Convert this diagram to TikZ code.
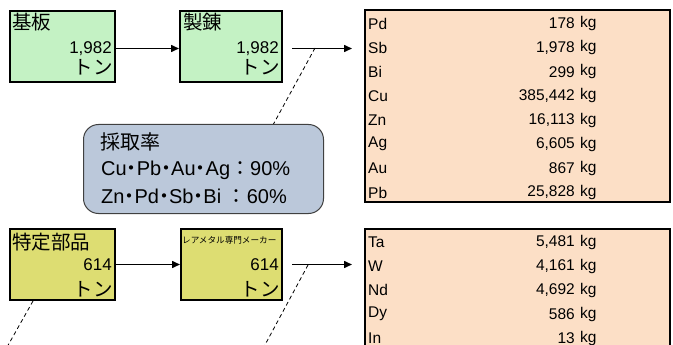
\documentclass[tikz,border=0pt]{standalone}
\usepackage{fontspec}
\setmainfont{Liberation Sans}
\newfontfamily\jp{Noto Sans CJK JP}
\newfontfamily\jpp[RawFeature=+palt]{Noto Sans CJK JP}
\usetikzlibrary{arrows.meta, positioning}

\definecolor{stagegreen}{RGB}{196,242,196}
\definecolor{stageyellow}{RGB}{221,221,114}
\definecolor{resultpeach}{RGB}{252,223,198}
\definecolor{ratefill}{RGB}{187,200,218}
\definecolor{rateline}{RGB}{64,64,64}

\begin{document}
\begin{tikzpicture}[x=1pt, y=-1pt]
	\tikzset{>={Triangle[length=8pt, width=7pt]},
		stage/.style={draw, line width=2pt, anchor=north west, inner sep=0pt, minimum height=71pt},
		title/.style={anchor=west, inner sep=0pt, font=\jp\fontsize{19.5}{19.5}\selectfont},
		amount/.style={anchor=east, inner sep=0pt, font=\fontsize{17}{17}\selectfont},
		unit/.style={anchor=east, inner sep=0pt, font=\jp\fontsize{19.5}{19.5}\selectfont},
		result/.style={draw, line width=2pt, fill=resultpeach, anchor=north west, inner sep=0pt, minimum width=305pt},
		cell/.style={inner sep=0pt, font=\fontsize{15.5}{15.5}\selectfont},
		ratetext/.style={anchor=west, inner sep=0pt, font=\fontsize{20}{20}\selectfont},
		flow/.style={->, line width=1.5pt},
		pointer/.style={line width=0.8pt, dash pattern=on 4pt off 3pt}}

	\path[use as bounding box] (0,0) rectangle (673,345);
	\clip (0,0) rectangle (673,345);

	% upper flow
	\node[stage, fill=stagegreen, minimum width=105pt] (kiban) at (9,10) {};
	\node[stage, fill=stagegreen, minimum width=102pt] (seiren) at (179,10) {};
	\node[title] (kibanT) at (12,22) {基板};
	\node[amount] (kibanA) at (112,49) {1,982};
	\node[unit] (kibanU) at (113,67) {トン};
	\node[title] (seirenT) at (183,22) {製錬};
	\node[amount] (seirenA) at (279,49) {1,982};
	\node[unit] (seirenU) at (280,67) {トン};

	\node[result, minimum height=192pt] (tab1) at (364,9) {};
	\foreach \el/\val [count=\i] in {Pd/178, Sb/{1,978}, Bi/299, Cu/{385,442}, Zn/{16,113}, Ag/{6,605}, Au/867, Pb/{25,828}} {
		\node[cell, anchor=west] (elA\i) at (368,{23.5+(\i-1)*24.14}) {\el};
		\node[cell, anchor=east] (valA\i) at (575,{23.5+(\i-1)*24.14}) {\val};
		\node[cell, anchor=west] (kgA\i) at (580,{23.5+(\i-1)*24.14}) {kg};
	}

	\coordinate (out1) at ([xshift=9pt, yshift=-2pt]seiren.east);
	\coordinate (in1) at ([xshift=-12pt]tab1.west |- out1);
	\draw[flow] ([yshift=-2pt]kiban.east) -- ([yshift=-2pt]seiren.west);
	\draw[flow] (out1) -- (in1);

	% recovery rate callout
	\node[draw=rateline, line width=1pt, fill=ratefill, rounded corners=15pt, anchor=north west,
		minimum width=240pt, minimum height=89pt, inner sep=0pt] (rate) at (83,124) {};
	\node[ratetext, font=\jp\fontsize{20}{20}\selectfont] (rateT) at (100,142) {採取率};
	\node[ratetext] (rate1) at (101,170) {Cu{\jpp ・}Pb{\jpp ・}Au{\jpp ・}Ag{\jp ：}90\%};
	\node[ratetext] (rate2) at (101,196) {Zn{\jpp ・}Pd{\jpp ・}Sb{\jpp ・}Bi {\jp ：}60\%};
	\coordinate (tip1) at (315,48);
	\draw[pointer] (tip1) -- ([xshift=70pt]rate.north);

	% lower flow
	\node[stage, fill=stageyellow, minimum width=105pt] (buhin) at (9,228) {};
	\node[stage, fill=stageyellow, minimum width=101pt] (maker) at (180,228) {};
	\node[title] (buhinT) at (12,242) {特定部品};
	\node[amount] (buhinA) at (112,265) {614};
	\node[unit] (buhinU) at (113,289) {トン};
	\node[title, font=\jp\fontsize{8.6}{8.6}\selectfont] (makerT) at (182,240) {レアメタル専門メーカー};
	\node[amount] (makerA) at (279,265) {614};
	\node[unit] (makerU) at (280,289) {トン};

	\node[result, minimum height=200pt] (tab2) at (364,228) {};
	\foreach \el/\val [count=\i] in {Ta/{5,481}, W/{4,161}, Nd/{4,692}, Dy/586, In/13} {
		\node[cell, anchor=west] (elB\i) at (368,{242+(\i-1)*24}) {\el};
		\node[cell, anchor=east] (valB\i) at (575,{242+(\i-1)*24}) {\val};
		\node[cell, anchor=west] (kgB\i) at (580,{242+(\i-1)*24}) {kg};
	}

	\coordinate (out2) at ([xshift=9pt]maker.east);
	\coordinate (in2) at ([xshift=-12pt]tab2.west |- out2);
	\draw[flow] (buhin) -- (maker);
	\draw[flow] (out2) -- (in2);

	\coordinate (tip2) at (308,265);
	\coordinate (end2) at (259,356);
	\coordinate (end3) at (2,356);
	\draw[pointer] (tip2) -- (end2);
	\draw[pointer] ([xshift=24pt]buhin.south west) -- (end3);
\end{tikzpicture}
\end{document}
